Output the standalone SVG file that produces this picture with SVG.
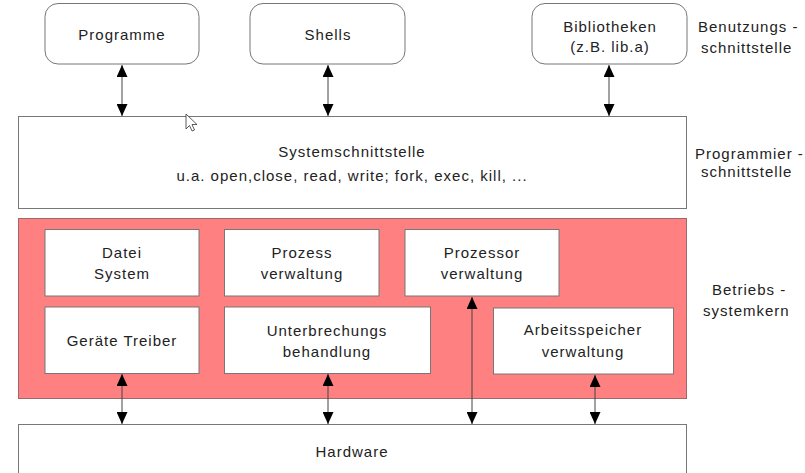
<svg xmlns="http://www.w3.org/2000/svg" width="805" height="473" viewBox="0 0 805 473">
<defs>
<style>
text{font-family:"Liberation Sans",Arial,sans-serif;font-size:15px;fill:#222;letter-spacing:1px}
.c{text-anchor:middle}
.box{fill:#fff;stroke:#777;stroke-width:1}
.kern{fill:#ff8080;stroke:#a06868;stroke-width:1}
.conn line{stroke:#444;stroke-width:1;marker-start:url(#ah);marker-end:url(#ah)}
</style>
<marker id="ah" viewBox="0 0 12 11" refX="12" refY="5.5" markerWidth="12" markerHeight="11" markerUnits="userSpaceOnUse" orient="auto-start-reverse">
<path d="M0,0 L12,5.5 L0,11 Z" fill="#000"/>
</marker>
</defs>
<rect width="805" height="473" fill="#fff"/>

<g id="programme"><rect class="box" x="45" y="3.5" width="154" height="60.5" rx="13"/><text class="c" x="122" y="40">Programme</text></g>
<g id="shells"><rect class="box" x="250" y="3.5" width="155" height="60.5" rx="13"/><text class="c" x="328" y="40">Shells</text></g>
<g id="bibliotheken"><rect class="box" x="532" y="3.5" width="155" height="60.5" rx="13"/><text class="c" x="610" y="32">Bibliotheken</text><text class="c" x="610" y="52">(z.B. lib.a)</text></g>
<g id="label-benutzung"><text x="698" y="32">Benutzungs -</text><text x="701" y="53">schnittstelle</text></g>

<g id="systemschnittstelle"><rect class="box" x="18.5" y="116.5" width="668" height="92"/><text class="c" x="352" y="157">Systemschnittstelle</text><text class="c" x="352" y="181">u.a. open,close, read, write; fork, exec, kill, ...</text></g>
<g id="label-programmier"><text x="695" y="159">Programmier -</text><text x="701" y="177">schnittstelle</text></g>

<g id="kern"><rect class="kern" x="18.5" y="218.5" width="668" height="180"/></g>
<g id="datei"><rect class="box" x="45" y="229.5" width="154" height="66.5"/><text class="c" x="122" y="258">Datei</text><text class="c" x="122" y="279">System</text></g>
<g id="prozess"><rect class="box" x="224.5" y="229.5" width="154.5" height="66.5"/><text class="c" x="302" y="258">Prozess</text><text class="c" x="302" y="279">verwaltung</text></g>
<g id="prozessor"><rect class="box" x="405" y="229.5" width="154" height="66.5"/><text class="c" x="482" y="258">Prozessor</text><text class="c" x="482" y="279">verwaltung</text></g>
<g id="geraete"><rect class="box" x="45" y="307" width="154" height="66.5"/><text class="c" x="122" y="346">Geräte Treiber</text></g>
<g id="unterbrechung"><rect class="box" x="224.5" y="307" width="206" height="66.5"/><text class="c" x="327" y="336">Unterbrechungs</text><text class="c" x="327" y="357">behandlung</text></g>
<g id="arbeitsspeicher"><rect class="box" x="493.5" y="308" width="180" height="66"/><text class="c" x="583" y="335">Arbeitsspeicher</text><text class="c" x="583" y="357">verwaltung</text></g>
<g id="label-kern"><text x="712" y="295">Betriebs -</text><text x="703" y="316">systemkern</text></g>

<g id="hardware"><rect class="box" x="18.5" y="424.5" width="668" height="60"/><text class="c" x="352" y="457">Hardware</text></g>

<g id="connectors" class="conn">
<line x1="122" y1="65" x2="122" y2="116"/>
<line x1="328" y1="65" x2="328" y2="116"/>
<line x1="609" y1="65" x2="609" y2="116"/>
<line x1="122" y1="374" x2="122" y2="424"/>
<line x1="328" y1="374" x2="328" y2="424"/>
<line x1="472" y1="297" x2="472" y2="424"/>
<line x1="595" y1="375" x2="595" y2="424"/>
</g>

<g id="cursor"><path d="M186,114 L186,129 L189.5,125.5 L192,131 L194.5,130 L192,124.5 L197,124.5 Z" fill="#fff" stroke="#333" stroke-width="0.8"/></g>
</svg>
